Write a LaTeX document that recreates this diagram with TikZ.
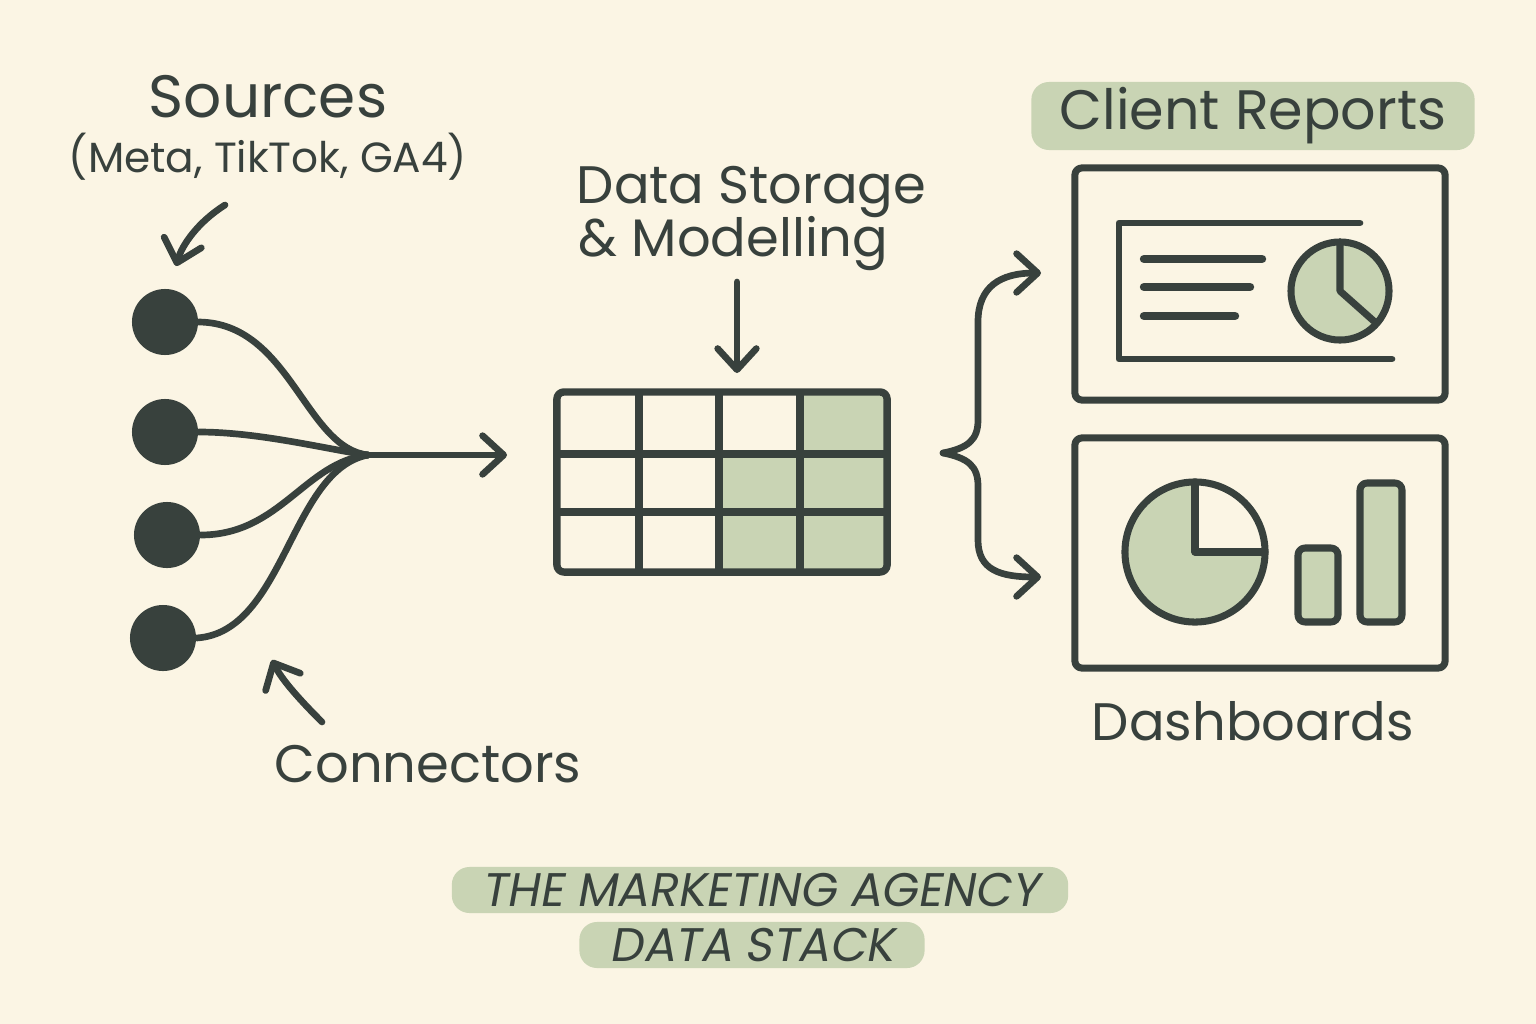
\documentclass[tikz,border=0pt]{standalone}
\usepackage{fontspec}
\setmainfont{Poppins}
\newfontfamily\slantfont[FakeSlant=0.18]{Poppins}
\usetikzlibrary{arrows.meta}
\definecolor{bg}{HTML}{FBF5E4}
\definecolor{ink}{HTML}{38413D}
\definecolor{sage}{HTML}{C9D4B4}
\begin{document}
\begin{tikzpicture}[x=0.01cm,y=-0.01cm, line join=round, line cap=round,
  inkline/.style={draw=ink, line width=1.9pt},
  tip/.style={-{Straight Barb[length=6pt,width=11pt,round]}},
  lbl/.style={text=ink, inner sep=0pt},
  big/.style={lbl, font=\fontsize{17}{20}\selectfont},
  mid/.style={lbl, font=\fontsize{15}{18}\selectfont},
  dot/.style={circle, fill=ink, minimum size=0.66cm, inner sep=0pt},
  panel/.style={draw=ink, line width=2pt, rounded corners=2pt, minimum width=3.70cm, inner sep=0pt},
  hl/.style={fill=sage, rounded corners=5pt, text=ink, inner sep=0pt},
  ttl/.style={hl, font=\slantfont\fontsize{13.4}{16}\selectfont},
  boxfill/.style={fill=sage, draw=ink, line width=2pt}
]
\fill[bg] (0,0) rectangle (1536,1024);
\useasboundingbox (0,0) rectangle (1536,1024);

% Sources
\node[big, anchor=base] (srcT) at (268,117) {Sources};
\node[lbl, anchor=base, font=\fontsize{12}{14}\selectfont] (srcS) at (268,172) {(Meta, TikTok, GA4)};
\coordinate (sa0) at (225,205);
\coordinate (sa1) at (176,266);
\draw[inkline, tip] (sa0) .. controls (198,222) and (182,245) .. (sa1);

% source dots
\node[dot] (s1) at (165,322) {};
\node[dot] (s2) at (165,432) {};
\node[dot] (s3) at (167,535) {};
\node[dot] (s4) at (163,638) {};
\coordinate (m) at (368,455);
\coordinate (ain) at (507,455);
\draw[inkline] (s1.east) .. controls (290,323) and (305,448) .. (m);
\draw[inkline] (s2.east) .. controls (260,432) and (330,450) .. (m);
\draw[inkline] (s3.east) .. controls (280,535) and (305,462) .. (m);
\draw[inkline] (s4.east) .. controls (285,632) and (290,470) .. (m);
\draw[inkline, tip] (m) -- (ain);

% Connectors
\node[mid, anchor=base] (conT) at (428,782) {Connectors};
\coordinate (ca0) at (322,722);
\coordinate (ca1) at (272,660);
\draw[inkline, tip] (ca0) .. controls (300,700) and (282,680) .. (ca1);

% Data storage
\node[mid, anchor=base west] (ds1) at (576,203) {Data Storage};
\node[mid, anchor=base west] (ds2) at (578,256) {\& Modelling};
\coordinate (da0) at (737,282);
\coordinate (da1) at (737,373);
\draw[inkline, tip] (da0) -- (da1);

% grid
\fill[sage] (800,392) rectangle (887,454);
\fill[sage] (719,454) rectangle (887,572);
\node[draw=ink, line width=2.1pt, rounded corners=2pt, minimum width=3.30cm, minimum height=1.80cm, inner sep=0pt] (grid) at (722,482) {};
\draw[inkline, line width=2.1pt, line cap=butt] (639,392) -- (639,572) (719,392) -- (719,572) (800,392) -- (800,572)
  (557,454) -- (887,454) (557,512) -- (887,512);

% brace
\coordinate (bt) at (943,453);
\coordinate (b1) at (1041,273);
\coordinate (b2) at (1041,577);
\draw[inkline, tip] (bt) .. controls (968,448) and (978,440) .. (978,420) -- (978,322) .. controls (978,287) and (1000,273) .. (b1);
\draw[inkline, tip] (bt) .. controls (968,458) and (978,466) .. (978,486) -- (978,540) .. controls (978,570) and (1000,577) .. (b2);

% Client reports
\node[hl, font=\fontsize{15.8}{19}\selectfont, minimum width=4.43cm, minimum height=0.68cm] (crT) at (1253,116) {Client Reports};
\node[panel, minimum height=2.32cm] (rep) at (1260,284) {};
\draw[inkline] (1360,223) -- (1119,223) -- (1119,359) -- (1392,359);
\draw[inkline, line width=2.4pt] (1144,259) -- (1262,259) (1144,287) -- (1250,287) (1144,316) -- (1235,316);
\draw[boxfill] (1340,291) circle (0.49cm);
\draw[inkline, line width=2pt] (1340,242) -- (1340,291) -- (1376,323);

% Dashboards
\node[panel, minimum height=2.30cm] (dash) at (1260,553) {};
\fill[sage] (1195,552) circle (0.70cm);
\fill[bg] (1195,552) -- (1195,482) arc[start angle=90, end angle=0, radius=0.70cm] -- cycle;
\draw[ink, line width=2pt] (1195,552) circle (0.70cm);
\draw[inkline, line width=2pt] (1195,482) -- (1195,552) -- (1265,552);
\draw[boxfill, rounded corners=2pt] (1298,548) rectangle (1338,622);
\draw[boxfill, rounded corners=2pt] (1360,483) rectangle (1402,622);
\node[mid, anchor=base] (dbT) at (1253,740) {Dashboards};

% title
\node[ttl, minimum width=6.16cm, minimum height=0.46cm] (t1) at (760,890) {THE MARKETING AGENCY};
\node[ttl, minimum width=3.45cm, minimum height=0.46cm] (t2) at (752,945) {DATA STACK};
\end{tikzpicture}
\end{document}
